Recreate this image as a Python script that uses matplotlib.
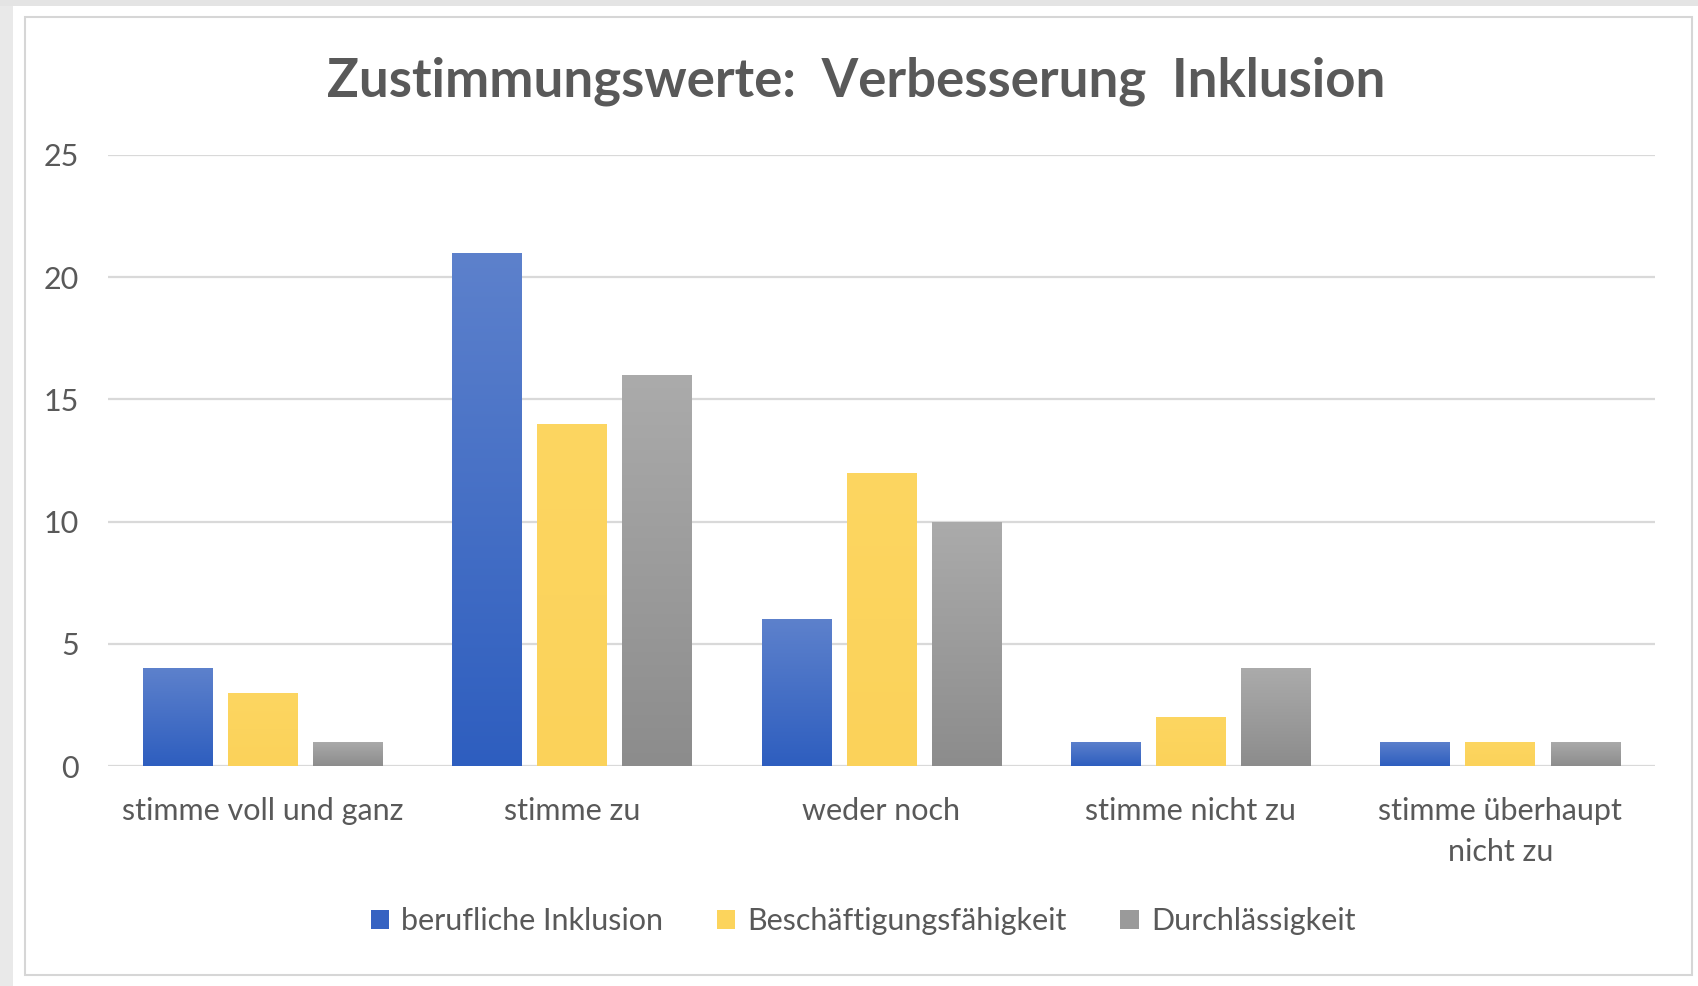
import numpy as np
import matplotlib
matplotlib.use('Agg')
import matplotlib.pyplot as plt
from matplotlib.patches import Rectangle, Patch
from matplotlib.colors import LinearSegmentedColormap

# ── Daten ─────────────────────────────────────────────────────────────
categories = ['stimme voll und ganz', 'stimme zu', 'weder noch',
              'stimme nicht zu', 'stimme überhaupt\nnicht zu']
series_names = ['berufliche Inklusion', 'Beschäftigungsfähigkeit', 'Durchlässigkeit']
inklusion = [4, 21, 6, 1, 1]
beschaeftigung = [3, 14, 12, 2, 1]
durchlaessigkeit = [1, 16, 10, 4, 1]
y_ticks = [0, 5, 10, 15, 20, 25]

# Farbverlauf (oben -> unten)
grad = {
    'berufliche Inklusion': ('#5d81cc', '#2e5ebf'),
    'Beschäftigungsfähigkeit': ('#fdd661', '#fbd25a'),
    'Durchlässigkeit': ('#ababab', '#8c8c8c'),
}
legend_cols = ['#3562c2', '#fcd45c', '#9a9a9a']

plt.rcParams['font.family'] = ['Lato', 'DejaVu Sans']

fig = plt.figure(figsize=(16.99, 9.86), dpi=100)
fig.patch.set_facecolor('white')

# Rahmen / Schatten wie im Screenshot
W, H = 1699, 986
fig.patches.append(Rectangle((0, 0), 13 / W, 1, transform=fig.transFigure,
                             facecolor='#e9e9e9', edgecolor='none', zorder=-2))
fig.patches.append(Rectangle((0, 1 - 6 / H), 1, 6 / H, transform=fig.transFigure,
                             facecolor='#e4e4e4', edgecolor='none', zorder=-2))
fig.patches.append(Rectangle((25 / W, 1 - 975 / H), (1692 - 25) / W, (975 - 17) / H,
                             transform=fig.transFigure, facecolor='white',
                             edgecolor='#d6d6d6', lw=1.5, zorder=-1))

ax = fig.add_axes([108 / W, 1 - 766 / H, (1655 - 108) / W, (766 - 155) / H])
ax.set_facecolor('none')

x = np.arange(len(categories))
width = 0.225
offs = [-0.275, 0, 0.275]
g = np.linspace(0, 1, 256).reshape(-1, 1)
for name, vals, off in zip(series_names, [inklusion, beschaeftigung, durchlaessigkeit], offs):
    bars = ax.bar(x + off, vals, width, color='none', edgecolor='none', zorder=3)
    cmap = LinearSegmentedColormap.from_list(name, [grad[name][1], grad[name][0]])
    for b in bars:
        x0, y0 = b.get_x(), b.get_y()
        im = ax.imshow(g, cmap=cmap, origin='lower', aspect='auto', zorder=3,
                       extent=[x0, x0 + b.get_width(), y0, y0 + b.get_height()])
        im.set_clip_path(b)

ax.set_xlim(-0.5, len(categories) - 0.5)
ax.set_ylim(0, 25)
ax.set_yticks(y_ticks)
ax.set_xticks(x)
ax.set_xticklabels(categories, fontsize=22, color='#595959', linespacing=1.6)
ax.tick_params(axis='y', labelsize=22, labelcolor='#595959', length=0, pad=21)
ax.tick_params(axis='x', length=0, pad=22)
ax.grid(axis='y', color='#d9d9d9', lw=1.6, zorder=0)
for s in ax.spines.values():
    s.set_visible(False)

# Legende
handles = [Patch(facecolor=c, edgecolor='none') for c in legend_cols]
fig.legend(handles, series_names, loc='center', bbox_to_anchor=(0.508, 1 - 921 / H),
           ncol=3, frameon=False, fontsize=22, labelcolor='#595959',
           handlelength=0.6, handleheight=0.6, handletextpad=0.4, columnspacing=1.75)

fig.text(0.504, 1 - 81 / H, 'Zustimmungswerte:  Verbesserung  Inklusion',
         ha='center', va='center', fontsize=38, fontweight='bold', color='#595959')

plt.savefig('out.png', dpi=100)
